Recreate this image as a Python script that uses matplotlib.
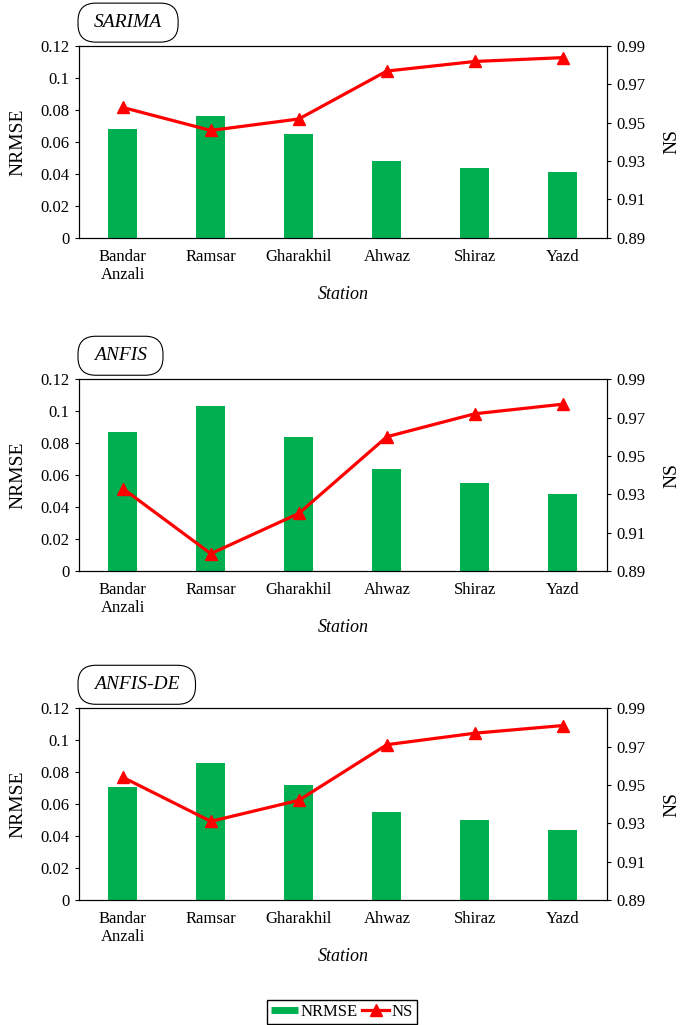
import numpy as np
import matplotlib.pyplot as plt
from matplotlib.patches import FancyBboxPatch
from matplotlib.lines import Line2D

plt.rcParams['font.family'] = ['Liberation Serif', 'DejaVu Serif']

# ===== Data =====
stations = ['Bandar\nAnzali', 'Ramsar', 'Gharakhil', 'Ahwaz', 'Shiraz', 'Yazd']
models = ['SARIMA', 'ANFIS', 'ANFIS-DE']

sarima_nrmse = [0.068, 0.076, 0.065, 0.048, 0.044, 0.041]
sarima_ns = [0.958, 0.946, 0.952, 0.977, 0.982, 0.984]

anfis_nrmse = [0.087, 0.103, 0.084, 0.064, 0.055, 0.048]
anfis_ns = [0.933, 0.899, 0.920, 0.960, 0.972, 0.977]

anfisde_nrmse = [0.071, 0.086, 0.072, 0.055, 0.050, 0.044]
anfisde_ns = [0.954, 0.931, 0.942, 0.971, 0.977, 0.981]

nrmse_all = [sarima_nrmse, anfis_nrmse, anfisde_nrmse]
ns_all = [sarima_ns, anfis_ns, anfisde_ns]

green = '#00B050'
red = '#FF0000'

W, H = 685, 1025
fig = plt.figure(figsize=(6.85, 10.25), dpi=100)
renderer = fig.canvas.get_renderer()
bottoms = [0.768, 0.443, 0.122]
x = np.arange(len(stations))

for name, nrmse, ns, b in zip(models, nrmse_all, ns_all, bottoms):
    ax = fig.add_axes([0.115, b, 0.771, 0.187])
    ax.bar(x, nrmse, width=0.33, color=green, zorder=2)
    ax.set_ylim(0, 0.12)
    ax.set_xlim(-0.5, len(stations) - 0.5)
    ax.set_yticks([0, 0.02, 0.04, 0.06, 0.08, 0.1, 0.12])
    ax.set_yticklabels(['0', '0.02', '0.04', '0.06', '0.08', '0.1', '0.12'])
    ax.set_xticks(x)
    ax.set_xticklabels(stations)
    ax.tick_params(axis='x', length=0, pad=8, labelsize=12)
    ax.tick_params(axis='y', length=3, labelsize=12)
    ax.set_ylabel('NRMSE', fontsize=14, labelpad=10)
    ax.set_xlabel('Station', fontsize=13, style='italic', labelpad=2)

    ax2 = ax.twinx()
    ax2.plot(x, ns, color=red, linewidth=2.3, marker='^', markersize=8, zorder=3)
    ax2.set_ylim(0.89, 0.99)
    ax2.set_yticks([0.89, 0.91, 0.93, 0.95, 0.97, 0.99])
    ax2.tick_params(axis='y', length=3, labelsize=12)
    ax2.set_ylabel('NS', fontsize=14, rotation=90, labelpad=13)

    # rounded title box above the axes
    top_px = (b + 0.187) * H
    t = fig.text(0, 0, name, fontsize=14, style='italic', ha='center', va='center')
    ext = t.get_window_extent(renderer)
    bw = ext.width + 32
    bh = 39
    x0 = 78
    y0 = top_px + 4
    t.set_position(((x0 + bw / 2) / W, (y0 + bh / 2) / H))
    box = FancyBboxPatch((x0 / W, y0 / H), bw / W, bh / H,
                         boxstyle='round,pad=0,rounding_size=0.026',
                         transform=fig.transFigure, fc='white', ec='black', lw=0.8,
                         mutation_aspect=W / H)
    fig.add_artist(box)

handles = [Line2D([0], [0], color=green, lw=5, solid_capstyle='butt'),
           Line2D([0], [0], color=red, lw=2.3, marker='^', markersize=8)]
fig.legend(handles, ['NRMSE', 'NS'], loc='center', bbox_to_anchor=(342 / W, 1 - 1012 / H), ncol=2,
           fontsize=12, frameon=True, fancybox=False, edgecolor='black', framealpha=1,
           handlelength=1.6, handletextpad=0.15, columnspacing=0.3, borderpad=0.25,
           borderaxespad=0)

fig.savefig('out.png', dpi=100)
